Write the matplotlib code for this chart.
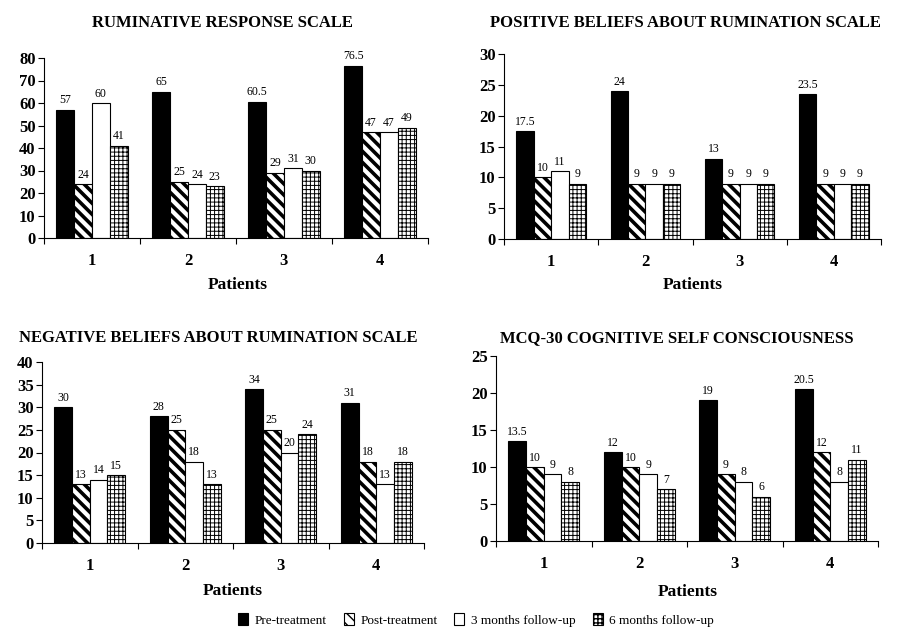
import matplotlib
matplotlib.use("Agg")
import matplotlib.pyplot as plt
import numpy as np

plt.rcParams['font.family'] = ['Liberation Serif', 'DejaVu Serif']

patients = ["1", "2", "3", "4"]
series_names = ["Pre-treatment", "Post-treatment", "3 months follow-up", "6 months follow-up"]

rrs_pre = [57, 65, 60.5, 76.5]
rrs_post = [24, 25, 29, 47]
rrs_3m = [60, 24, 31, 47]
rrs_6m = [41, 23, 30, 49]

pbrs_pre = [17.5, 24, 13, 23.5]
pbrs_post = [10, 9, 9, 9]
pbrs_3m = [11, 9, 9, 9]
pbrs_6m = [9, 9, 9, 9]

nbrs_pre = [30, 28, 34, 31]
nbrs_post = [13, 25, 25, 18]
nbrs_3m = [14, 18, 20, 13]
nbrs_6m = [15, 13, 24, 18]

mcq_pre = [13.5, 12, 19, 20.5]
mcq_post = [10, 10, 9, 12]
mcq_3m = [9, 9, 8, 8]
mcq_6m = [8, 7, 6, 11]

titles = ["RUMINATIVE RESPONSE SCALE", "POSITIVE BELIEFS ABOUT RUMINATION SCALE",
          "NEGATIVE BELIEFS ABOUT RUMINATION SCALE", "MCQ-30 COGNITIVE SELF CONSCIOUSNESS"]
ymaxes = [80, 30, 40, 25]
ysteps = [10, 5, 5, 5]

W, H = 898, 628
fig = plt.figure(figsize=(W / 100, H / 100), dpi=100)

# axes rectangles in pixels: left, right, top, bottom
rects = [(44, 428, 58, 238), (504, 881, 54, 239), (42, 424, 362, 543), (496, 878, 356, 541)]
title_pos = [(222, 23), (685, 23), (218, 338), (677, 338)]
xlabel_pos = [(238, 285), (693, 285), (233, 591), (688, 592)]

data = [
    [rrs_pre, rrs_post, rrs_3m, rrs_6m],
    [pbrs_pre, pbrs_post, pbrs_3m, pbrs_6m],
    [nbrs_pre, nbrs_post, nbrs_3m, nbrs_6m],
    [mcq_pre, mcq_post, mcq_3m, mcq_6m],
]

styles = [
    dict(facecolor='black', edgecolor='black', hatch=None),
    dict(facecolor='white', edgecolor='black', hatch='\\\\\\'),
    dict(facecolor='white', edgecolor='black', hatch=None),
    dict(facecolor='white', edgecolor='black', hatch='++++'),
]
hatch_lw = [1.0, 2.6, 1.0, 0.7]

bw = 0.185
x = np.arange(len(patients)) + 0.5
handles = []
for i, (rect, vals) in enumerate(zip(rects, data)):
    l, r, t, b = rect
    ax = fig.add_axes([l / W, 1 - b / H, (r - l) / W, (b - t) / H])
    for j, v in enumerate(vals):
        pos = x + (j - 1.5) * bw
        with plt.rc_context({'hatch.linewidth': hatch_lw[j]}):
            bars = ax.bar(pos, v, width=bw, linewidth=0.8, label=series_names[j], **styles[j])
        for p in bars.patches:
            try:
                p.set_hatch_linewidth(hatch_lw[j])
            except Exception:
                pass
        ax.bar_label(bars, labels=["%g" % vv for vv in v], padding=2.5, fontsize=8.5)
        if i == 0:
            handles.append(bars)
    ax.set_xlim(0, 4)
    ax.set_ylim(0, ymaxes[i])
    ax.set_yticks(np.arange(0, ymaxes[i] + 0.1, ysteps[i]))
    ax.set_xticks([0, 1, 2, 3, 4])
    ax.set_xticklabels([])
    ax.set_xticks(x, minor=True)
    ax.set_xticklabels(patients, minor=True, fontsize=12, fontweight='bold')
    ax.tick_params(axis='x', which='minor', length=0, pad=11)
    ax.tick_params(axis='x', which='major', length=4, direction='out', width=0.8)
    ax.tick_params(axis='y', length=4, direction='out', width=0.8, pad=2)
    for lab in ax.get_yticklabels():
        lab.set_fontweight('bold')
        lab.set_fontsize(12)
    ax.spines['top'].set_visible(False)
    ax.spines['right'].set_visible(False)
    ax.spines['left'].set_linewidth(0.8)
    ax.spines['bottom'].set_linewidth(0.8)
    tx, ty = title_pos[i]
    fig.text(tx / W, 1 - ty / H, titles[i], ha='center', va='center', fontsize=12, fontweight='bold')
    lx, ly = xlabel_pos[i]
    fig.text(lx / W, 1 - ly / H, "Patients", ha='center', va='center', fontsize=12.5, fontweight='bold')

fig.legend(handles, series_names, loc='center', bbox_to_anchor=(476 / W, 1 - 620 / H), ncol=4,
           frameon=False, fontsize=9.5, handlelength=0.75, handleheight=1.0, handletextpad=0.5,
           columnspacing=1.3, borderpad=0)

fig.savefig("out.png", dpi=100)
